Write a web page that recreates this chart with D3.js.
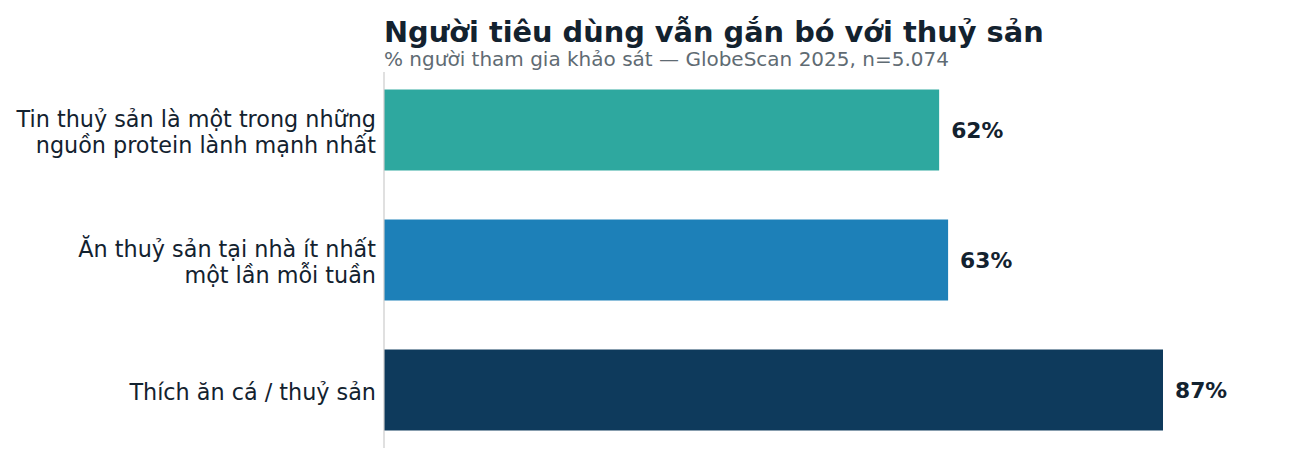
<!DOCTYPE html>
<html lang="vi">
  <head>
    <meta charset="utf-8">
    <title>Người tiêu dùng vẫn gắn bó với thuỷ sản</title>
    <script src="https://d3js.org/d3.v7.js"></script>
    <style>
      body { margin: 0; background: #fff; }
      * { font-family: "DejaVu Sans", sans-serif; }
    </style>
  </head>
  <body>
    <script type="text/javascript">
      // data
      var categories = [
        ["Tin thuỷ sản là một trong những", "nguồn protein lành mạnh nhất"],
        ["Ăn thuỷ sản tại nhà ít nhất", "một lần mỗi tuần"],
        ["Thích ăn cá / thuỷ sản"]
      ];
      var values = [62, 63, 87];
      var colors = ["#2ea89f", "#1d80b8", "#0e3a5c"];

      var w = 1296, h = 464;
      var left = 384;

      var svg = d3.select("body").append("svg")
        .attr("width", w)
        .attr("height", h);

      var xScale = d3.scaleLinear()
        .domain([0, 100])
        .range([left, left + 895.4]);

      var yScale = d3.scaleBand()
        .domain(d3.range(categories.length))
        .range([65, 455])
        .paddingInner(0.377)
        .paddingOuter(0.1885);

      // title + subtitle
      svg.append("text")
        .attr("x", left).attr("y", 42)
        .attr("font-size", 28.8).attr("font-weight", "bold")
        .attr("fill", "#13222f")
        .text("Người tiêu dùng vẫn gắn bó với thuỷ sản");
      svg.append("text")
        .attr("x", left).attr("y", 66)
        .attr("font-size", 20)
        .attr("fill", "#5f6b73")
        .text("% người tham gia khảo sát — GlobeScan 2025, n=5.074");

      // bars
      svg.selectAll("rect.bar")
        .data(values).enter().append("rect")
        .attr("class", "bar")
        .attr("x", xScale(0))
        .attr("y", (d, i) => yScale(i))
        .attr("width", d => xScale(d) - xScale(0))
        .attr("height", yScale.bandwidth())
        .attr("fill", (d, i) => colors[i]);

      // left axis line
      svg.append("line")
        .attr("x1", left).attr("x2", left)
        .attr("y1", 72).attr("y2", 448)
        .attr("stroke", "#cccccc").attr("stroke-width", 1.2);

      // value labels
      svg.selectAll("text.val")
        .data(values).enter().append("text")
        .attr("class", "val")
        .attr("x", d => xScale(d) + 12)
        .attr("y", (d, i) => yScale(i) + yScale.bandwidth() / 2)
        .attr("dy", "0.35em")
        .attr("font-size", 21.8).attr("font-weight", "bold")
        .attr("fill", "#13222f")
        .text(d => d + "%");

      // category labels
      var lineH = 26.3;
      var lab = svg.selectAll("text.cat")
        .data(categories).enter().append("text")
        .attr("class", "cat")
        .attr("text-anchor", "end")
        .attr("font-size", 22.3)
        .attr("fill", "#13222f")
        .attr("transform", (d, i) => `translate(${left - 8}, ${yScale(i) + yScale.bandwidth() / 2})`);
      lab.selectAll("tspan")
        .data(d => d.map((t, j) => ({t: t, j: j, n: d.length})))
        .enter().append("tspan")
        .attr("x", 0)
        .attr("y", d => (d.j - (d.n - 1) / 2) * lineH)
        .attr("dy", "0.46em")
        .text(d => d.t);
    </script>
  </body>
</html>
